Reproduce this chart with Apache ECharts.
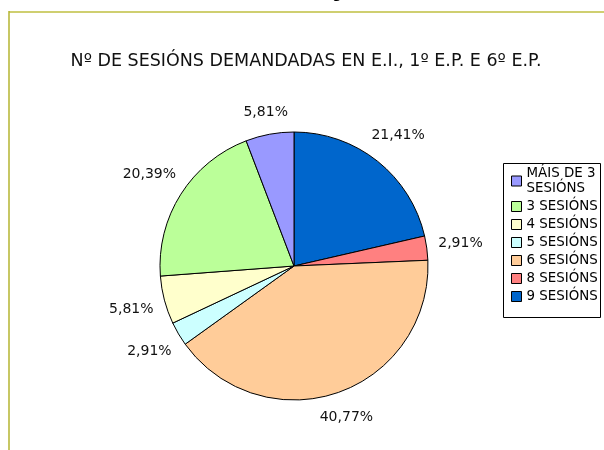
<!DOCTYPE html>
<html>
<head>
<meta charset="utf-8">
<script src="https://cdn.jsdelivr.net/npm/echarts@6/dist/echarts.min.js"></script>
<style>
  html, body { margin: 0; padding: 0; background: #fff; }
  #chart { width: 604px; height: 450px; }
</style>
</head>
<body>
<div id="chart"></div>
<script>
// datos: orde das porcións no sentido das agullas do reloxo desde arriba
const categories = ['9 SESIÓNS', '8 SESIÓNS', '6 SESIÓNS', '5 SESIÓNS', '4 SESIÓNS', '3 SESIÓNS', 'MÁIS DE 3 SESIÓNS'];
const values = [21.41, 2.91, 40.77, 2.91, 5.81, 20.39, 5.81];
const colors = ['#0066CC', '#FF8080', '#FFCC99', '#CCFFFF', '#FFFFCC', '#BBFF99', '#9999FF'];
const legendOrder = ['MÁIS DE 3 SESIÓNS', '3 SESIÓNS', '4 SESIÓNS', '5 SESIÓNS', '6 SESIÓNS', '8 SESIÓNS', '9 SESIÓNS'];

const cx = 294, cy = 266, R = 134;
const total = values.reduce((a, b) => a + b, 0);

// ángulo medio de cada porción (radiáns, desde arriba)
const midAngles = [];
let acc = 0;
values.forEach(v => {
  midAngles.push((acc + v / 2) / total * Math.PI * 2);
  acc += v;
});

const chart = echarts.init(document.getElementById('chart'));

chart.setOption({
  animation: false,
  backgroundColor: '#fff',
  title: {
    text: 'Nº DE SESIÓNS DEMANDADAS EN E.I., 1º E.P. E 6º E.P.',
    left: 301, top: 47, textAlign: 'center',
    textStyle: { fontFamily: 'DejaVu Sans', fontSize: 17.5, fontWeight: 'normal', color: '#111' }
  },
  legend: {
    orient: 'vertical',
    left: 511, top: 166,
    padding: 0,
    itemWidth: 10, itemHeight: 10, itemGap: 3,
    icon: 'rect',
    data: legendOrder,
    formatter: function (name) {
      return name === 'MÁIS DE 3 SESIÓNS' ? 'MÁIS DE 3\nSESIÓNS' : name;
    },
    itemStyle: { borderColor: '#000', borderWidth: 1 },
    textStyle: { fontFamily: 'DejaVu Sans', fontSize: 13.4, color: '#000', lineHeight: 15 }
  },
  graphic: [
    { type: 'line', shape: { x1: 9, y1: 12, x2: 604, y2: 12 }, style: { stroke: '#cfcf70', lineWidth: 2 } },
    { type: 'line', shape: { x1: 9, y1: 11, x2: 9, y2: 450 }, style: { stroke: '#b5b530', lineWidth: 1.5 } },
    { type: 'rect', shape: { x: 503.5, y: 163.5, width: 97, height: 154 }, style: { fill: null, stroke: '#000', lineWidth: 1 } },
    { type: 'text', x: 332, y: -14, style: { text: 'g', font: '16px DejaVu Sans', fill: '#000' } }
  ],
  series: [{
    type: 'pie',
    center: [cx, cy],
    radius: R,
    startAngle: 90,
    clockwise: true,
    data: categories.map((name, i) => ({ name: name, value: values[i], itemStyle: { color: colors[i] } })),
    itemStyle: { borderColor: '#000', borderWidth: 1 },
    label: {
      show: true,
      position: 'outside',
      fontFamily: 'DejaVu Sans',
      fontSize: 14,
      color: '#111',
      formatter: p => values[p.dataIndex].toFixed(2).replace('.', ',') + '%'
    },
    labelLine: { show: false },
    labelLayout: function (p) {
      const a = midAngles[p.dataIndex];
      const dx = Math.sin(a), dy = -Math.cos(a);
      const w = p.labelRect.width, h = p.labelRect.height;
      const d = R + 11 + Math.abs(dx) * w / 2 + Math.abs(dy) * h / 2;
      return { x: cx + dx * d, y: cy + dy * d, align: 'center', verticalAlign: 'middle' };
    },
    emphasis: { disabled: true }
  }]
});
</script>
</body>
</html>
